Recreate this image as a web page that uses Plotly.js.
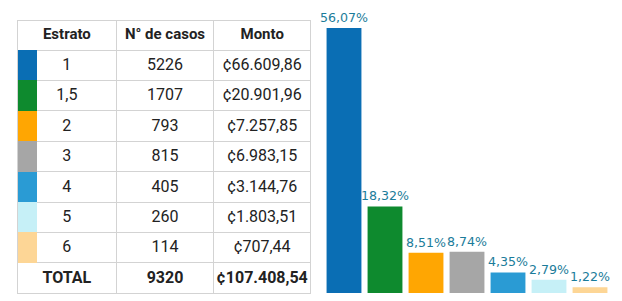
<!DOCTYPE html>
<html>
<head>
<meta charset="utf-8">
<script src="https://cdn.plot.ly/plotly-3.0.1.min.js"></script>
<style>html,body{margin:0;padding:0;background:#fff;}#chart{width:622px;height:301px;}</style>
</head>
<body>
<div id="chart"></div>
<script>
// ---- data ----
var estratos = ['1', '1,5', '2', '3', '4', '5', '6'];
var casos = [5226, 1707, 793, 815, 405, 260, 114];
var montos = ['¢66.609,86', '¢20.901,96', '¢7.257,85', '¢6.983,15', '¢3.144,76', '¢1.803,51', '¢707,44'];
var totalLabel = 'TOTAL';
var totalCasos = 9320;
var totalMonto = '¢107.408,54';
var porcentajes = [56.07, 18.32, 8.51, 8.74, 4.35, 2.79, 1.22];
var colores = ['#0a6eb4', '#0e8a2e', '#ffa602', '#a6a6a6', '#2a9bd4', '#c6f0f7', '#fdd696'];
var headers = ['Estrato', 'N° de casos', 'Monto'];

// ---- layout constants ----
var W = 622, H = 301;
var lineGrey = '#d3d3d3';
var txt = '#222222';
var fontFam = 'Roboto, "Noto Sans", sans-serif';

var nowrap = function (s) { return s.replace(/ /g, '\u00a0'); };
var col1 = estratos.concat([totalLabel]);
var col2 = casos.map(String).concat([String(totalCasos)]);
var col3 = montos.concat([totalMonto]);
var weights = col1.map(function (v, i) { return i === col1.length - 1 ? 'bold' : 'normal'; });

var tableTop = 1 - 20 / H;

var tableTrace = {
  type: 'table',
  domain: {x: [17 / W, 311.7 / W], y: [0, tableTop]},
  columnwidth: [100, 97, 98],
  header: {
    values: headers.map(nowrap),
    height: 30,
    align: 'center',
    fill: {color: '#ffffff'},
    line: {color: lineGrey, width: 1},
    font: {family: fontFam, size: 15, color: txt, weight: 'bold'}
  },
  cells: {
    values: [col1, col2, col3],
    height: 30.4,
    align: 'center',
    fill: {color: '#ffffff'},
    line: {color: lineGrey, width: 1},
    font: {family: fontFam, size: 16, color: txt, weight: [weights, weights, weights]}
  }
};

var swatchFill = colores.concat(['rgba(0,0,0,0)']);
var swatchTrace = {
  type: 'table',
  domain: {x: [18 / W, 37.7 / W], y: [0, tableTop]},
  header: {
    values: [''],
    height: 30,
    fill: {color: 'rgba(0,0,0,0)'},
    line: {color: 'rgba(0,0,0,0)', width: 0}
  },
  cells: {
    values: [swatchFill.map(function () { return ''; })],
    height: 30.4,
    fill: {color: [swatchFill]},
    line: {color: [swatchFill], width: 0}
  }
};

var barTrace = {
  type: 'bar',
  x: estratos,
  y: porcentajes,
  xaxis: 'x2',
  yaxis: 'y2',
  marker: {color: colores, line: {width: 0}},
  texttemplate: '%{y:.2f}%',
  textposition: 'outside',
  constraintext: 'none',
  cliponaxis: false,
  textfont: {family: '"DejaVu Sans", Verdana, sans-serif', size: 12.6, color: '#1b7c9a'},
  hoverinfo: 'none'
};

var yBottom = (H - 293) / H;
var yRange = [0, 62];

var layout = {
  width: W,
  height: H,
  margin: {l: 0, r: 0, t: 0, b: 0, pad: 0},
  paper_bgcolor: '#ffffff',
  plot_bgcolor: 'rgba(0,0,0,0)',
  separators: ',.',
  showlegend: false,
  bargap: 0.15,
  xaxis: {domain: [366 / W, 608 / W], anchor: 'y', showgrid: false, zeroline: false, showticklabels: false, ticks: '', showline: false, range: [0, 1], fixedrange: true},
  yaxis: {domain: [yBottom, 1], anchor: 'x', range: yRange, dtick: 10, showgrid: true, gridcolor: '#ebebeb', gridwidth: 1, zeroline: false, showticklabels: false, ticks: '', showline: false, fixedrange: true},
  xaxis2: {domain: [323.5 / W, 610.5 / W], anchor: 'y2', type: 'category', range: [-0.5, 6.5], showgrid: false, zeroline: false, showticklabels: false, ticks: '', showline: false, fixedrange: true},
  yaxis2: {domain: [yBottom, 1], anchor: 'x2', range: yRange, showgrid: false, zeroline: false, showticklabels: false, ticks: '', showline: false, fixedrange: true}
};

Plotly.newPlot('chart', [tableTrace, swatchTrace, barTrace], layout, {displayModeBar: false, staticPlot: true});
</script>
</body>
</html>
